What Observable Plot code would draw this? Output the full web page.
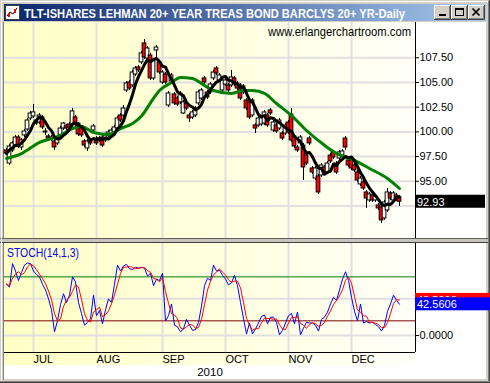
<!DOCTYPE html>
<html><head><meta charset="utf-8">
<script src="https://cdn.jsdelivr.net/npm/d3@7"></script>
<script src="https://cdn.jsdelivr.net/npm/@observablehq/plot@0.6"></script>
<style>
body{margin:0;background:#d4d0c8;}
#win{position:relative;width:490px;height:383px;overflow:hidden;background:#d4d0c8;font-family:"Liberation Sans",Arial,sans-serif;}
#win > *{position:absolute;}
</style></head><body><div id="win"></div>
<script>
// ---- data (trading days 18 Jun 2010 .. 23 Dec 2010) ----
const openP = [98.12,96.80,98.12,98.62,99.43,98.42,99.64,100.24,101.36,101.56,
101.15,100.95,101.46,100.04,99.54,99.43,99.03,98.83,99.64,100.34,
100.55,100.75,100.65,101.46,100.85,100.34,99.03,98.32,99.03,100.14,
99.33,99.13,99.43,99.13,99.64,99.64,99.94,100.34,101.66,101.66,
104.19,105.00,104.70,105.81,106.52,107.03,108.95,107.43,107.73,105.41,
108.24,107.03,105.00,105.81,102.67,105.10,103.79,103.38,102.98,101.86,
102.88,101.66,101.46,101.66,102.88,103.38,105.41,103.99,103.99,105.41,
106.42,105.20,104.19,104.80,104.70,104.70,105.41,104.90,104.70,103.99,
103.18,102.98,101.66,100.65,100.65,100.75,100.85,101.66,102.17,100.14,
100.65,100.34,99.84,99.84,100.95,101.76,99.54,98.42,98.83,98.62,
97.61,99.33,96.30,95.28,95.49,95.59,96.40,95.89,97.61,97.92,
96.80,97.31,97.61,99.33,97.11,97.11,96.60,95.89,94.68,94.88,
93.87,93.06,93.56,93.06,92.55,92.35,91.24,92.05,93.77,93.06,
93.56,93.36];
const highP = [98.32,98.73,99.03,99.64,99.64,99.33,100.24,101.36,102.07,102.77,
101.36,101.86,101.66,100.34,99.74,99.64,99.23,99.64,100.55,100.95,
100.75,100.95,102.37,101.66,100.95,100.55,99.23,99.23,99.23,100.75,
99.54,99.54,99.64,99.84,100.14,100.34,100.65,101.56,101.86,102.67,
105.10,105.20,106.22,106.62,106.72,108.14,109.35,108.64,107.94,107.43,
108.75,107.23,106.22,106.01,104.09,105.91,103.99,103.58,104.09,103.18,
103.08,101.86,102.17,102.57,104.19,104.39,105.61,104.19,105.00,106.22,
106.62,105.91,105.41,105.41,104.90,106.22,105.61,105.10,104.90,104.80,
103.38,103.18,103.38,100.85,101.56,101.56,102.17,101.86,102.37,101.15,
100.85,101.36,100.04,100.85,101.15,102.37,99.74,98.62,99.64,98.83,
97.81,99.54,96.50,96.50,95.69,96.80,96.60,97.00,97.81,98.12,
97.00,98.12,98.22,99.54,97.31,97.31,96.80,96.09,95.49,95.08,
94.07,93.87,93.77,93.67,92.75,92.55,93.06,94.27,93.97,93.97,
93.77,93.56];
const lowP = [97.61,96.60,97.92,98.42,98.32,98.12,99.43,100.04,101.15,101.36,
100.65,100.75,100.24,99.64,99.13,99.03,98.12,98.62,99.43,100.14,
100.14,100.24,100.45,100.55,99.54,99.43,98.42,98.02,98.62,99.94,
98.62,98.93,98.42,98.93,99.43,99.43,99.74,100.14,100.95,101.46,
103.99,104.19,104.50,105.61,106.01,106.82,107.33,107.23,105.20,105.20,
107.23,105.81,104.80,104.80,102.47,104.90,102.67,102.57,102.77,101.76,
102.17,100.95,101.26,101.46,102.67,103.18,104.80,103.28,103.79,105.20,
105.71,105.00,103.99,104.60,103.99,104.50,104.60,104.19,103.18,103.79,
102.17,101.26,101.46,99.84,100.45,100.55,100.65,100.45,101.66,99.94,
99.84,100.14,99.13,99.64,99.74,98.93,98.32,97.92,98.62,95.08,
96.60,98.62,95.69,95.08,93.67,95.39,95.69,95.69,96.80,97.21,
95.69,97.11,97.41,98.12,96.40,96.09,95.89,94.88,94.48,94.07,
92.25,92.86,92.86,92.86,92.05,90.73,91.04,91.84,93.06,92.86,
92.96,92.45];
const closeP = [97.81,98.52,98.83,99.43,98.52,99.13,100.04,101.15,101.86,101.97,
100.85,101.66,100.45,99.94,99.33,99.23,98.42,99.43,100.34,100.85,
100.34,100.45,102.07,100.75,99.74,99.64,98.62,99.03,98.83,100.55,
98.83,99.33,98.62,99.64,99.94,100.14,100.45,101.36,101.15,102.37,
104.90,104.39,106.01,106.42,106.22,107.94,107.53,108.44,105.41,107.23,
108.54,106.01,106.01,105.00,103.89,105.71,102.88,102.77,103.89,102.98,
102.37,101.36,101.97,102.37,103.99,104.19,105.00,103.48,104.80,106.01,
105.91,105.71,105.20,105.20,104.19,105.51,104.80,104.39,103.38,104.60,
102.37,101.46,103.18,100.34,101.36,101.36,101.97,100.65,101.86,100.95,
100.04,101.15,99.33,100.65,99.94,99.13,98.52,98.12,99.43,96.40,
96.80,98.83,95.89,96.30,93.87,96.60,95.89,96.80,97.00,97.41,
95.89,97.92,98.02,98.42,96.60,96.30,96.09,95.08,95.28,94.27,
93.26,93.67,93.06,93.46,92.25,91.04,92.86,93.87,93.26,93.77,
93.16,92.93];
// long moving average (green), read at sampled days
const greenIdx = [0,5,11,18,22,25,29,34,38,42,45,49,51,55,58,62,66,69,75,79,82,86,90,95,100,106,110,116,121,127,131];
const greenVal = [97.31,97.81,98.93,99.64,100.34,100.55,99.94,99.74,100.34,100.85,101.6,103.4,104.19,105.00,105.51,105.40,104.70,104.19,103.89,104.19,104.19,103.89,102.87,101.65,100.14,98.64,97.81,97.11,96.30,95.28,94.27];
// stochastic %K (14,1,3)
const stochK = [70,66,98,88,75,86,96,99,98,88,
83,80,70,62,50,35,5,20,42,57,
45,55,80,73,45,30,14,18,23,55,
27,34,16,35,50,45,70,96,88,95,
97,91,90,93,92,93,92,81,85,68,
77,75,85,20,27,43,14,12,5,9,
22,14,7,8,18,40,68,78,75,96,
88,89,82,77,69,72,82,68,45,23,
2,17,2,9,17,26,28,16,25,25,
18,1,7,17,27,30,16,32,1,10,
18,17,17,14,6,22,25,32,43,52,
48,62,77,87,75,52,33,20,43,17,
19,17,18,15,12,6,14,33,43,55,
48,42.5606];
const monthIdx = [9,30,52,73,94,115];
const monthLabels = ["JUL","AUG","SEP","OCT","NOV","DEC"];
const priceGrid = [92.5,95,97.5,100,102.5,105,107.5];
const priceTicks = [95,97.5,100,102.5,105,107.5];
const stochGrid = [0,50];
const stochUpper = [80];
const stochLower = [20];
const stochTicks = [0];
const yearLabel = "2010";
const titleText = "TLT-ISHARES LEHMAN 20+ YEAR TREAS BOND BARCLYS 20+ YR-Daily";
const siteText = "www.erlangerchartroom.com";
const stochLabel = "STOCH(14,1,3)";

// ---- layout ----
const win = document.getElementById("win");
const xDomain = [-0.67, 136.33];
const mainTop = 22, mainH = 216, mainDom = [89.21, 111.07];
const stTop = 243, stH = 109, stDom = [-23.2, 125.5];
const font = "'Liberation Sans', Arial, sans-serif";

function div(css){ const d=document.createElement("div"); d.style.cssText=css; win.appendChild(d); return d; }
// backgrounds
div("left:3px;top:22px;width:1px;height:358px;background:#808080");
div("left:4px;top:22px;width:411px;height:216px;background:linear-gradient(to right,#ffffc4,#fffff8)");
div("left:4px;top:243px;width:411px;height:122px;background:linear-gradient(to right,#ffffc4,#fffff8)");
div("left:415px;top:22px;width:71px;height:343px;background:#ffffff");
div("left:4px;top:365px;width:482px;height:14px;background:#ffffff");
div("left:0px;top:238px;width:490px;height:5px;box-sizing:border-box;background:#c8c4bc;border-top:1px solid #606060;border-bottom:1px solid #404040");
div("left:4px;top:4px;width:482px;height:17px;background:linear-gradient(to right,#0a246a,#a6caf0)");
div("left:1px;top:1px;width:488px;height:1px;background:#ffffff");
div("left:1px;top:1px;width:1px;height:381px;background:#ffffff");
div("left:488px;top:1px;width:1px;height:381px;background:#808080");
div("left:489px;top:0px;width:1px;height:383px;background:#404040");
div("left:0px;top:381px;width:490px;height:1px;background:#808080");
div("left:0px;top:382px;width:490px;height:1px;background:#404040");

const days = closeP.map((c,i)=>({i,o:openP[i],h:highP[i],l:lowP[i],c}));
const green = greenIdx.map((i,j)=>({i,v:greenVal[j]}));
const stoch = stochK.map((k,i)=>({i,k}));
const grid = "#e0e0e0";

const main = Plot.plot({
  width:490, height:mainH, marginLeft:4, marginRight:75, marginTop:0, marginBottom:0,
  x:{domain:xDomain, axis:null},
  y:{domain:mainDom, axis:null},
  style:{background:"transparent", fontFamily:font, fontSize:"11px", color:"black"},
  marks:[
    Plot.ruleX(monthIdx,{stroke:grid, strokeWidth:2}),
    Plot.ruleY(priceGrid,{stroke:grid, strokeWidth:2}),
    Plot.ruleX(days,{x:"i", y1:"l", y2:"h", stroke:"black", strokeWidth:1}),
    Plot.rect(days,{x1:d=>d.i-0.62, x2:d=>d.i+0.62, y1:"o", y2:"c", fill:d=>d.c<d.o?"#ff0000":"#ffffff", stroke:"black", strokeWidth:1}),
    Plot.line(green,{x:"i", y:"v", stroke:"#008000", strokeWidth:3, curve:"monotone-x"}),
    Plot.lineY(days, Plot.windowY({k:5, anchor:"end"},{x:"i", y:"c", stroke:"black", strokeWidth:3})),
    Plot.ruleX([xDomain[1]],{stroke:"black"}),
    Plot.axisY({ticks:priceTicks, anchor:"right", label:null, tickSize:3, tickPadding:1, tickFormat:d=>d.toFixed(2), fontSize:11, fill:"black", stroke:"black"})
  ]
});
main.style.left="0px"; main.style.top=mainTop+"px";
win.appendChild(main);

const st = Plot.plot({
  width:490, height:stH+14, marginLeft:4, marginRight:75, marginTop:0, marginBottom:14,
  x:{domain:xDomain, axis:null},
  y:{domain:stDom, axis:null},
  style:{background:"transparent", fontFamily:font, fontSize:"11px", color:"black"},
  marks:[
    Plot.ruleX(monthIdx,{stroke:grid, strokeWidth:2}),
    Plot.ruleY(stochGrid,{stroke:grid, strokeWidth:2}),
    Plot.ruleY(stochUpper,{stroke:"#008000"}),
    Plot.ruleY(stochLower,{stroke:"#800000"}),
    Plot.lineY(stoch,{x:"i", y:"k", stroke:"#0000ff", strokeWidth:1}),
    Plot.lineY(stoch, Plot.windowY({k:3, anchor:"end"},{x:"i", y:"k", stroke:"#ff0000", strokeWidth:1})),
    Plot.ruleX([xDomain[1]],{stroke:"black"}),
    Plot.ruleY([stDom[0]],{stroke:"black"}),
    Plot.axisY({ticks:stochTicks, anchor:"right", label:null, tickSize:3, tickPadding:1, tickFormat:d=>d.toFixed(4), fontSize:11, fill:"black", stroke:"black"}),
    Plot.axisX({ticks:monthIdx, anchor:"bottom", label:null, tickSize:0, tickPadding:3, tickFormat:d=>monthLabels[monthIdx.indexOf(d)], textAnchor:"start", fontSize:11, fill:"black"})
  ]
});
st.style.left="0px"; st.style.top=stTop+"px";
win.appendChild(st);

// ---- overlay: title bar, labels, value boxes ----
const yMain = d3.scaleLinear(mainDom,[mainTop+mainH, mainTop]);
const ySt = d3.scaleLinear(stDom,[stTop+stH, stTop]);
const lastC = closeP[closeP.length-1];
const lastK = stochK[stochK.length-1];
const lastD = d3.mean(stochK.slice(-3));
const NS="http://www.w3.org/2000/svg";
const svg = document.createElementNS(NS,"svg");
svg.setAttribute("width",490); svg.setAttribute("height",383);
svg.style.cssText="left:0;top:0;position:absolute";
const btn = (x)=>`<rect x="${x}" y="5" width="16" height="14" fill="#d4d0c8"/>
<path d="M${x}.5 19V5.5H${x+16}" fill="none" stroke="#ffffff"/>
<path d="M${x} 19.5H${x+16}.5V5" fill="none" stroke="#404040"/>
<path d="M${x+1} 18.5H${x+15}.5V6" fill="none" stroke="#808080"/>`;
const yD = ySt(lastD), yK = ySt(lastK);
svg.innerHTML = `
<defs><clipPath id="redclip"><rect x="415" y="${yD-6.5}" width="75" height="${Math.max(0,(yK-6.5)-(yD-6.5))}"/></clipPath></defs>
<rect x="5.5" y="5.5" width="14" height="14" fill="#ffffff" stroke="#404040"/>
<path d="M7 16L10 12L13 14L17 8" fill="none" stroke="#000" stroke-width="1"/>
<rect x="8" y="13" width="2" height="4" fill="#ff0000"/><rect x="14" y="9" width="2" height="4" fill="#ff0000"/>
<text x="24" y="17.5" fill="#ffffff" font-family="${font}" font-weight="bold" font-size="12" textLength="381" lengthAdjust="spacingAndGlyphs">${titleText}</text>
${btn(434)}${btn(451)}${btn(468)}
<rect x="439" y="14" width="7" height="2" fill="#000"/>
<rect x="455.5" y="8.5" width="8" height="7" fill="none" stroke="#000"/><rect x="455" y="8" width="9" height="2" fill="#000"/>
<path d="M472.5 8.5L479.5 15.5M479.5 8.5L472.5 15.5" stroke="#000" stroke-width="1.7"/>
<text x="268" y="35.5" fill="#000" font-family="${font}" font-size="12" textLength="143" lengthAdjust="spacingAndGlyphs">${siteText}</text>
<text x="7" y="257" fill="#0000ff" font-family="${font}" font-size="12" textLength="72" lengthAdjust="spacingAndGlyphs">${stochLabel}</text>
<rect x="415" y="${yMain(lastC)-6.5}" width="70" height="13" fill="#000"/>
<text x="417" y="${yMain(lastC)+4.5}" fill="#fff" font-family="${font}" font-size="11">${lastC.toFixed(2)}</text>
<rect x="415" y="${yD-6.5}" width="75" height="13" fill="#ff0000"/>
<g clip-path="url(#redclip)"><text x="417" y="${yD+4.5}" fill="#fff" font-family="${font}" font-size="11">${lastD.toFixed(4)}</text></g>
<rect x="415" y="${yK-6.5}" width="75" height="13" fill="#0000ff"/>
<text x="417" y="${yK+4.5}" fill="#fff" font-family="${font}" font-size="11">${lastK.toFixed(4)}</text>
<text x="210" y="376" text-anchor="middle" fill="#000" font-family="${font}" font-size="11.5">${yearLabel}</text>
`;
win.appendChild(svg);
</script></body></html>
